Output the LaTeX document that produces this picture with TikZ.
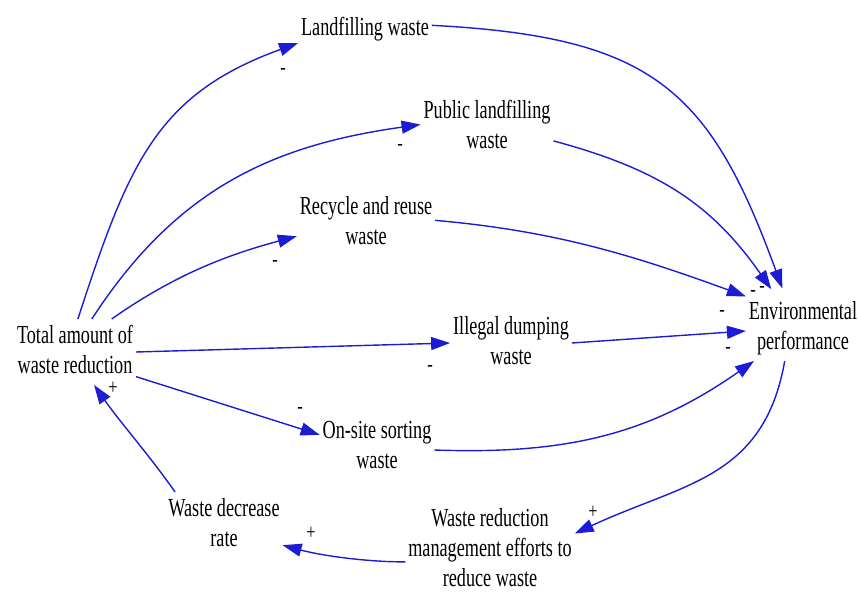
\documentclass[tikz,border=0pt]{standalone}
\usepackage{fontspec}
\setmainfont{Liberation Serif}
\usepackage{graphicx}
\usetikzlibrary{arrows.meta}
\definecolor{linkblue}{RGB}{28,28,212}
% condensed serif labels used by the causal loop diagram
\newcommand\vartext[1]{\scalebox{0.7}[1]{\fontsize{26}{30}\selectfont\begin{tabular}{@{}c@{}}#1\end{tabular}}}
\newcommand\signtext[1]{\scalebox{0.75}[1]{\fontsize{22}{26}\selectfont #1}}
\begin{document}
\begin{tikzpicture}[x=1pt,y=1pt,
  var/.style={inner sep=3pt, outer sep=0pt},
  sign/.style={inner sep=0pt},
  link/.style={draw=linkblue, line width=1.4pt, -{Triangle[length=19pt,width=13pt]}},
]
\useasboundingbox (0,0) rectangle (858,592);

% variables
\node[var] (tot)  at (75,240)  {\vartext{Total amount of\\waste reduction}};
\node[var] (land) at (365,562) {\vartext{Landfilling waste}};
\node[var] (pub)  at (487,464) {\vartext{Public landfilling\\waste}};
\node[var] (rec)  at (366,368) {\vartext{Recycle and reuse\\waste}};
\node[var] (ill)  at (511,249) {\vartext{Illegal dumping\\waste}};
\node[var] (ons)  at (377,145) {\vartext{On-site sorting\\waste}};
\node[var] (env)  at (803,264) {\vartext{Environmental\\performance}};
\node[var] (dec)  at (224,67)  {\vartext{Waste decrease\\rate}};
\node[var] (mgt)  at (490,42)  {\vartext{Waste reduction\\management efforts to\\reduce waste}};

% links from total waste reduction
\draw[link] (tot.85) to[out=72,in=200,out distance=165pt,in distance=150pt] (land.191);
\draw[link] (tot.63) to[out=57,in=188,out distance=155pt,in distance=150pt] (pub.177);
\draw[link] (tot.42) to[out=35,in=195,out distance=75pt,in distance=75pt] (rec.190);
\draw[link] (tot.east) -- (ill.west);
\draw[link] (tot.-22) -- (ons.168);

% links into environmental performance
\draw[link, shorten >=7pt] (land.4) to[out=-3,in=110,out distance=220pt,in distance=220pt] (env.119);
\draw[link, shorten >=7pt] (pub.-11) to[out=-15,in=125,out distance=110pt,in distance=110pt] (env.130);
\draw[link] (rec.3) to[out=-5,in=160,out distance=120pt,in distance=120pt] (env.151);
\draw[link] (ill.east) -- (env.183);
\draw[link] (ons.-3) to[out=-2,in=215,out distance=130pt,in distance=130pt] (env.214);

% feedback loop
\draw[link] (env.241) to[out=-100,in=25,out distance=120pt,in distance=120pt] (mgt.11);
\draw[link] (mgt.188) to[out=180,in=-15,out distance=40pt,in distance=40pt] (dec.-19);
\draw[link] (dec.146) to[out=125,in=-55,out distance=45pt,in distance=45pt] (tot.-60);

% link polarities
\node[sign] (m1) at (283,520) {\signtext{-}};
\node[sign] (m2) at (400,444) {\signtext{-}};
\node[sign] (m3) at (275,329) {\signtext{-}};
\node[sign] (m4) at (430,224) {\signtext{-}};
\node[sign] (m5) at (300,182) {\signtext{-}};
\node[sign] (m6) at (753,299) {\signtext{-}};
\node[sign] (m7) at (762,303) {\signtext{-}};
\node[sign] (m8) at (722,279) {\signtext{-}};
\node[sign] (m9) at (728,242) {\signtext{-}};
\node[sign] (p1) at (113,204) {\signtext{+}};
\node[sign] (p2) at (311,59)  {\signtext{+}};
\node[sign] (p3) at (593,80)  {\signtext{+}};
\end{tikzpicture}
\end{document}
